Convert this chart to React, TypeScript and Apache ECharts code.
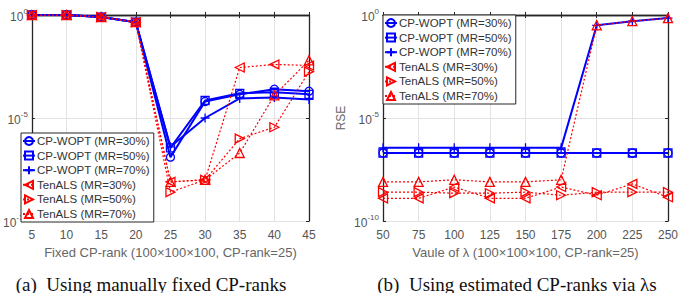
import React, { useEffect, useRef } from "react";
import * as echarts from "echarts";

// x positions
const rankTicks = [5, 10, 15, 20, 25, 30, 35, 40, 45];
const lambdaTicks = [50, 75, 100, 125, 150, 175, 200, 225, 250];

// log10(RSE) against a fixed CP-rank
const rankCpwopt30 = [0, 0, -0.1, -0.35, -6.9, -4.2, -3.85, -3.6, -3.7];
const rankCpwopt50 = [0, 0, -0.1, -0.35, -6.45, -4.15, -3.8, -3.75, -3.85];
const rankCpwopt70 = [0, 0, -0.1, -0.35, -6.4, -5.0, -4.05, -4.0, -4.1];
const rankTenals30 = [0, 0, -0.1, -0.35, -8.1, -8.0, -2.55, -2.4, -2.45];
const rankTenals50 = [0, 0, -0.1, -0.35, -8.6, -8.0, -6.0, -5.45, -2.75];
const rankTenals70 = [0, 0, -0.1, -0.35, -8.1, -8.0, -6.7, -3.9, -2.2];

// log10(RSE) against lambda
const lamCpwopt30 = [-6.7, -6.7, -6.7, -6.7, -6.7, -6.7, -6.7, -6.7, -6.7];
const lamCpwopt50 = [-6.7, -6.7, -6.7, -6.7, -6.7, -6.7, -6.7, -6.7, -6.7];
const lamCpwopt70 = [-6.45, -6.45, -6.45, -6.45, -6.45, -6.45, -0.5, -0.3, -0.15];
const lamTenals30 = [-8.9, -8.9, -8.35, -8.9, -8.9, -8.35, -8.75, -8.2, -8.85];
const lamTenals50 = [-8.6, -8.6, -8.65, -8.65, -8.6, -8.75, -8.6, -8.6, -8.6];
const lamTenals70 = [-8.1, -8.1, -8.0, -8.1, -8.1, -8.0, -0.5, -0.3, -0.15];

const logTicks = [-10, -5, 0];

const seriesNames = [
  "CP-WOPT (MR=30%)",
  "CP-WOPT (MR=50%)",
  "CP-WOPT (MR=70%)",
  "TenALS (MR=30%)",
  "TenALS (MR=50%)",
  "TenALS (MR=70%)",
];

const FONT = "Liberation Sans";
const BLUE = "#0000ff";
const RED = "#ff0000";
const BOX = "#262626";
const TICK_TEXT = "#555555";
const PLUS = "path://M5,0V10M0,5H10";

type Look = { color: string; symbol: string; rotate: number; size: number; dotted: boolean };
const looks: Look[] = [
  { color: BLUE, symbol: "circle", rotate: 0, size: 8, dotted: false },
  { color: BLUE, symbol: "rect", rotate: 0, size: 8, dotted: false },
  { color: BLUE, symbol: PLUS, rotate: 0, size: 9, dotted: false },
  { color: RED, symbol: "triangle", rotate: 90, size: 9, dotted: true },
  { color: RED, symbol: "triangle", rotate: -90, size: 9, dotted: true },
  { color: RED, symbol: "triangle", rotate: 0, size: 9, dotted: true },
];

function makeSeries(xs: number[], ys: number[], idx: number, axis: number) {
  const lk = looks[idx];
  return {
    type: "line",
    name: seriesNames[idx],
    xAxisIndex: axis,
    yAxisIndex: axis,
    data: xs.map((x, i) => [x, ys[i]]),
    symbol: lk.symbol,
    symbolSize: lk.size,
    symbolRotate: lk.rotate,
    showAllSymbol: true,
    z: lk.dotted ? 3 : 2,
    lineStyle: {
      color: lk.color,
      width: lk.dotted ? 1.2 : 2,
      type: lk.dotted ? [2, 2] : "solid",
    },
    itemStyle: {
      color: "rgba(255,255,255,0)",
      borderColor: lk.color,
      borderWidth: 1.3,
    },
    emphasis: { disabled: true },
  };
}

function xAxisPair(grid: number, min: number, max: number, interval: number, name: string) {
  const line = { show: true, lineStyle: { color: BOX, width: 1.3 } };
  const tick = { show: true, inside: true, length: 3, lineStyle: { color: BOX, width: 1 } };
  return [
    {
      type: "value",
      gridIndex: grid,
      position: "bottom",
      min,
      max,
      interval,
      axisLine: line,
      axisTick: tick,
      axisLabel: { color: TICK_TEXT, fontSize: 12, fontFamily: FONT, margin: 8 },
      splitLine: { show: true, lineStyle: { color: "#e3e3e3", width: 1 } },
      name,
      nameLocation: "middle",
      nameGap: 25,
      nameTextStyle: { color: "#666666", fontSize: 13, fontFamily: FONT },
    },
    {
      type: "value",
      gridIndex: grid,
      position: "top",
      min,
      max,
      interval,
      axisLine: line,
      axisTick: tick,
      axisLabel: { show: false },
      splitLine: { show: false },
    },
  ];
}

function yAxisPair(grid: number, name: string) {
  const line = { show: true, lineStyle: { color: BOX, width: 1.3 } };
  const tick = { show: true, inside: true, length: 3, lineStyle: { color: BOX, width: 1 } };
  return [
    {
      type: "value",
      gridIndex: grid,
      position: "left",
      min: logTicks[0],
      max: logTicks[logTicks.length - 1],
      interval: 5,
      axisLine: line,
      axisTick: tick,
      axisLabel: {
        margin: 4,
        formatter: (v: number) => `{b|10}{s|${v}}`,
        rich: {
          b: { fontSize: 12, fontFamily: FONT, color: TICK_TEXT, verticalAlign: "bottom" },
          s: { fontSize: 8, fontFamily: FONT, color: TICK_TEXT, verticalAlign: "top", padding: [0, 0, 8, 0] },
        },
      },
      splitLine: { show: true, lineStyle: { color: "#e3e3e3", width: 1 } },
      name,
      nameLocation: "middle",
      nameGap: 36,
      nameTextStyle: { color: "#666666", fontSize: 12, fontFamily: FONT },
    },
    {
      type: "value",
      gridIndex: grid,
      position: "right",
      min: logTicks[0],
      max: logTicks[logTicks.length - 1],
      interval: 5,
      axisLine: line,
      axisTick: tick,
      axisLabel: { show: false },
      splitLine: { show: false },
    },
  ];
}

function legendAt(left: number, top: number) {
  return {
    orient: "vertical",
    left,
    top,
    data: seriesNames,
    backgroundColor: "#ffffff",
    borderColor: BOX,
    borderWidth: 1,
    borderRadius: 0,
    padding: [2, 4, 2, 1],
    itemWidth: 12,
    itemHeight: 10,
    itemGap: 2.6,
    selectedMode: false,
    textStyle: { color: "#333333", fontSize: 11.5, fontFamily: FONT, lineHeight: 12, padding: [0, 0, 0, -3] },
  };
}

export default function App() {
  const ref = useRef<HTMLDivElement>(null);

  useEffect(() => {
    if (!ref.current) return;
    const chart = echarts.init(ref.current, undefined, { renderer: "svg" });

    const rankSets = [rankCpwopt30, rankCpwopt50, rankCpwopt70, rankTenals30, rankTenals50, rankTenals70];
    const lamSets = [lamCpwopt30, lamCpwopt50, lamCpwopt70, lamTenals30, lamTenals50, lamTenals70];

    chart.setOption({
      animation: false,
      backgroundColor: "#ffffff",
      grid: [
        { left: 20, top: 15, width: 289, height: 206 },
        { left: 383, top: 15, width: 288, height: 206 },
      ],
      xAxis: [
        ...xAxisPair(0, 5, 45, 5, "Fixed CP-rank (100\u00d7100\u00d7100, CP-rank=25)"),
        ...xAxisPair(1, 50, 250, 25, "Vaule of \u03bb (100\u00d7100\u00d7100, CP-rank=25)"),
      ],
      yAxis: [...yAxisPair(0, ""), ...yAxisPair(1, "RSE")],
      legend: [legendAt(21, 133), legendAt(383, 15)],
      series: [
        ...rankSets.map((ys, i) => makeSeries(rankTicks, ys, i, 0)),
        ...lamSets.map((ys, i) => makeSeries(lambdaTicks, ys, i, 2)),
      ].map((s) => ({ ...s, yAxisIndex: s.xAxisIndex })),
      graphic: [
        {
          type: "text",
          x: 151,
          y: 284,
          style: {
            text: "(a)  Using manually fixed CP-ranks",
            fontFamily: "Liberation Serif",
            fontSize: 19,
            fill: "#111111",
            align: "center",
            verticalAlign: "middle",
          },
        },
        {
          type: "text",
          x: 517,
          y: 284,
          style: {
            text: "(b)  Using estimated CP-ranks via \u03bbs",
            fontFamily: "Liberation Serif",
            fontSize: 19,
            fill: "#111111",
            align: "center",
            verticalAlign: "middle",
          },
        },
      ],
    });

    return () => chart.dispose();
  }, []);

  return (
    <div
      ref={ref}
      style={{ position: "absolute", left: 0, top: 0, width: 681, height: 293, background: "#ffffff" }}
    />
  );
}
